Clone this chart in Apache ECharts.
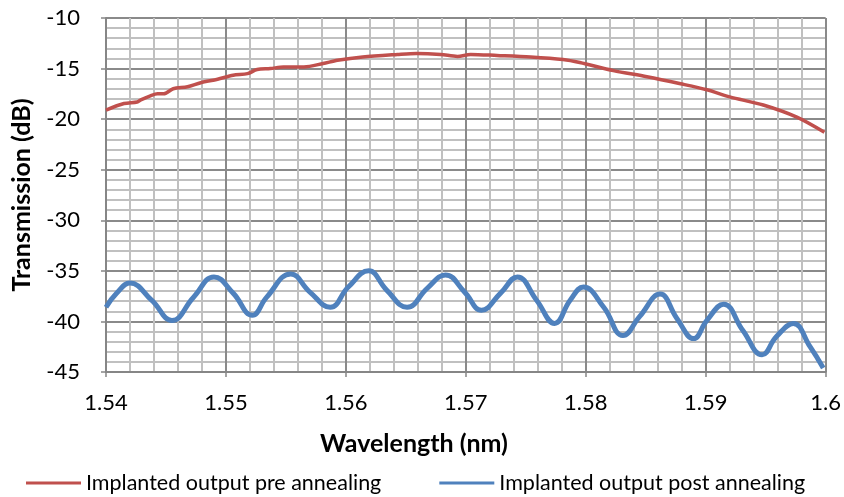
<!DOCTYPE html>
<html>
<head>
<meta charset="utf-8">
<script src="https://cdn.jsdelivr.net/npm/echarts@6/dist/echarts.min.js"></script>
<style>html,body{margin:0;padding:0;background:#fff}#c{width:844px;height:497px}</style>
</head>
<body>
<div id="c"></div>
<script>
var xTitle = 'Wavelength (nm)';
var yTitle = 'Transmission (dB)';
var seriesNames = ['Implanted output pre annealing', 'Implanted output post annealing'];

var preWl = [1.5400, 1.5415, 1.5426, 1.5429, 1.5437, 1.5443, 1.5448, 1.5456, 1.5468, 1.5479, 1.5493, 1.5506, 1.5518, 1.5526, 1.5537, 1.5548, 1.5565, 1.5581, 1.5593, 1.5614, 1.5643, 1.5659, 1.5679, 1.5693, 1.5704, 1.5726, 1.5754, 1.5781, 1.5795, 1.5823, 1.5851, 1.5879, 1.5901, 1.5920, 1.5948, 1.5976, 1.5999];
var preDb = [-19.1, -18.46, -18.3, -18.1, -17.7, -17.5, -17.5, -17.0, -16.8, -16.4, -16.06, -15.66, -15.5, -15.1, -15.0, -14.84, -14.84, -14.5, -14.18, -13.85, -13.6, -13.5, -13.6, -13.8, -13.6, -13.7, -13.85, -14.1, -14.4, -15.2, -15.8, -16.5, -17.1, -17.8, -18.6, -19.8, -21.3];

var postWl = [1.5400, 1.5409, 1.5420, 1.5438, 1.5455, 1.5473, 1.5490, 1.5506, 1.5522, 1.5534, 1.5554, 1.5570, 1.5587, 1.5602, 1.5619, 1.5634, 1.5651, 1.5668, 1.5683, 1.5699, 1.5713, 1.5729, 1.5743, 1.5759, 1.5774, 1.5787, 1.5798, 1.5815, 1.5831, 1.5845, 1.5862, 1.5876, 1.5890, 1.5901, 1.5915, 1.5931, 1.5947, 1.5959, 1.5973, 1.5987, 1.5998];
var postDb = [-38.6, -37.2, -36.2, -37.9, -39.9, -37.6, -35.6, -37.2, -39.4, -37.6, -35.3, -37.1, -38.6, -36.6, -35.0, -36.9, -38.6, -36.7, -35.4, -37.1, -38.9, -37.2, -35.6, -37.9, -40.2, -37.9, -36.6, -38.6, -41.4, -39.5, -37.3, -39.7, -41.7, -39.9, -38.3, -40.9, -43.3, -41.5, -40.2, -42.5, -44.6];

function pairs(xs, ys) { return xs.map(function (x, i) { return [x, ys[i]]; }); }

var FONT = 'Lato, "Open Sans", sans-serif';
var chart = echarts.init(document.getElementById('c'));
chart.setOption({
  animation: false,
  backgroundColor: '#ffffff',
  grid: { left: 106, right: 18, top: 18, bottom: 125, containLabel: false },
  xAxis: {
    type: 'value', min: 1.54, max: 1.6, interval: 0.01,
    axisLine: { show: true, lineStyle: { color: '#868686', width: 2 } },
    axisTick: { show: true, length: 5, lineStyle: { color: '#868686', width: 1.5 } },
    minorTick: { show: false, splitNumber: 5 },
    axisLabel: { margin: 20, color: '#000', fontSize: 22, fontFamily: FONT,
      formatter: function (v) { return String(+v.toFixed(2)); } },
    splitLine: { show: true, lineStyle: { color: '#8a8a8a', width: 2 } },
    minorSplitLine: { show: true, lineStyle: { color: '#c0c0c0', width: 2 } }
  },
  yAxis: {
    type: 'value', min: -45, max: -10, interval: 5,
    axisLine: { show: true, lineStyle: { color: '#868686', width: 2 } },
    axisTick: { show: true, length: 5, lineStyle: { color: '#868686', width: 1.5 } },
    minorTick: { show: false, splitNumber: 5 },
    axisLabel: { margin: 26, color: '#000', fontSize: 22, fontFamily: FONT },
    splitLine: { show: true, lineStyle: { color: '#8a8a8a', width: 2 } },
    minorSplitLine: { show: true, lineStyle: { color: '#c0c0c0', width: 2 } }
  },
  legend: {
    left: 21, top: 467, itemWidth: 55, itemHeight: 3, itemGap: 58, icon: 'rect',
    textStyle: { color: '#000', fontSize: 21.5, fontFamily: FONT },
    data: seriesNames
  },
  graphic: [
    { type: 'text', x: 22, y: 195, rotation: Math.PI / 2,
      style: { text: yTitle, fill: '#000', font: 'bold 25px ' + FONT, align: 'center', verticalAlign: 'middle' } },
    { type: 'text', x: 414, y: 444,
      style: { text: xTitle, fill: '#000', font: 'bold 25px ' + FONT, align: 'center', verticalAlign: 'middle' } }
  ],
  series: [
    { name: seriesNames[0], type: 'line', data: pairs(preWl, preDb), showSymbol: false, smooth: 0.3,
      color: '#C0504D', lineStyle: { color: '#C0504D', width: 3.5 } },
    { name: seriesNames[1], type: 'line', data: pairs(postWl, postDb), showSymbol: false, smooth: 0.45,
      color: '#4F81BD', lineStyle: { color: '#4F81BD', width: 5 } }
  ]
});
</script>
</body>
</html>
